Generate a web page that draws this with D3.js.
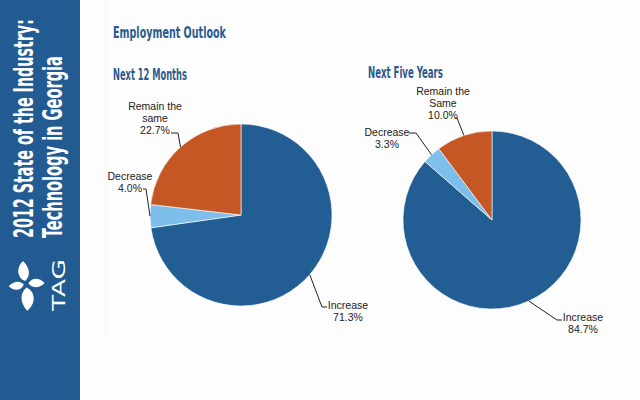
<!DOCTYPE html>
<html>
<head>
<meta charset="utf-8">
<script src="https://cdn.jsdelivr.net/npm/d3@7"></script>
<style>
  body { margin: 0; background: #fdfdfd; }
  svg { display: block; }
</style>
</head>
<body>
<script>
var w = 640,
    h = 400;

// data
var categories = ["Increase", "Decrease", "Remain the same"];
var next12Months = [71.3, 4.0, 22.7];
var nextFiveYears = [84.7, 3.3, 10.0];
var labels12 = [["Increase", "71.3%"], ["Decrease", "4.0%"], ["Remain the", "same", "22.7%"]];
var labels5 = [["Increase", "84.7%"], ["Decrease", "3.3%"], ["Remain the", "Same", "10.0%"]];

var colors = ["#225d93", "#7dbfea", "#c45724"];
var titleBlue = "#2a5a8f";

var svg = d3.select("body").append("svg")
    .attr("width", w)
    .attr("height", h);

svg.append("rect").attr("width", w).attr("height", h).attr("fill", "#fdfdfd");

// squeeze a text horizontally to a given length (stands in for a condensed face)
function squeeze(sel, base, len) {
  var natural = sel.node().getComputedTextLength();
  sel.attr("transform", base + " scale(" + (len / natural) + ",1)");
}

// sidebar
svg.append("rect")
    .attr("width", 80).attr("height", h)
    .attr("fill", "#225b91");

svg.append("line")
    .attr("x1", 106).attr("y1", 0).attr("x2", 106).attr("y2", 333)
    .attr("stroke", "#f4f4f4");

var side = svg.append("g").attr("fill", "#fff")
    .style("font-family", "'Liberation Sans Narrow', 'DejaVu Sans Condensed', sans-serif")
    .style("font-weight", "bold")
    .style("font-size", "26px");

squeeze(side.append("text").text("2012 State of the Industry:"),
    "translate(33,238) rotate(-90)", 219);
squeeze(side.append("text").text("Technology in Georgia"),
    "translate(62,238) rotate(-90)", 182);

// logo (pinwheel)
var logo = svg.append("g").attr("transform", "translate(26,284)").attr("fill", "#fff");
[[-15, 1], [80, 0.8], [170, 1.15], [255, 0.75]].forEach(function(p) {
  logo.append("path")
      .attr("d", "M0,-3 C-7,-8 -6,-18 3,-23 C8,-15 7,-7 0,-3 Z")
      .attr("transform", "rotate(" + p[0] + ") scale(" + p[1] + ")");
});

var tag = svg.append("text")
    .attr("fill", "#fff")
    .style("font-family", "'DejaVu Sans', sans-serif")
    .style("font-size", "17px")
    .text("TAG");
squeeze(tag, "translate(65,311) rotate(-90)", 52);

// titles
var titleFont = "'Liberation Sans Narrow', 'DejaVu Sans Condensed', sans-serif";
function title(x, y, t, len) {
  var s = svg.append("text")
      .attr("fill", titleBlue)
      .style("font-family", titleFont)
      .style("font-weight", "bold")
      .style("font-size", "16px")
      .text(t);
  squeeze(s, "translate(" + x + "," + y + ")", len);
}
title(113, 38, "Employment Outlook", 113);
title(113, 80, "Next 12 Months", 74);
title(368, 78, "Next Five Years", 75);

// pies
var pie = d3.pie().sort(null).value(function(d) { return d; });

function drawPie(values, texts, cx, cy, r, layout) {
  var g = svg.append("g").attr("transform", "translate(" + cx + "," + cy + ")");
  var arc = d3.arc().innerRadius(0).outerRadius(r);
  var arcs = pie(values);

  g.selectAll("path.slice")
      .data(arcs)
      .enter().append("path")
      .attr("class", "slice")
      .attr("d", arc)
      .attr("fill", function(d, i) { return colors[i]; })
      .attr("stroke", "#fff")
      .attr("stroke-width", 0.6);

  arcs.forEach(function(d, i) {
    var L = layout[i];
    var a = (d.startAngle + d.endAngle) / 2;
    var px = Math.sin(a) * r, py = -Math.cos(a) * r;
    g.append("polyline")
        .attr("points", [[px, py], [L.ex - cx, L.ey - cy], [L.hx - cx, L.ey - cy]].join(" "))
        .attr("fill", "none")
        .attr("stroke", "#222")
        .attr("stroke-width", 1);
    var t = svg.append("text")
        .attr("text-anchor", "middle")
        .attr("fill", "#222")
        .style("font-family", "'Liberation Sans', Arial, sans-serif")
        .style("font-size", "10.5px");
    texts[i].forEach(function(s, j) {
      t.append("tspan").attr("x", L.tx).attr("y", L.ty + j * 12).text(s);
    });
  });
}

// label layout: text centre/baseline, elbow point, end of horizontal tick
drawPie(next12Months, labels12, 241, 215, 91, [
  {tx: 348, ty: 309, ex: 322, ey: 307, hx: 327},
  {tx: 130, ty: 180, ex: 146, ey: 189, hx: 143},
  {tx: 155, ty: 110, ex: 178, ey: 133, hx: 171}
]);
drawPie(nextFiveYears, labels5, 492, 220, 89, [
  {tx: 583, ty: 321, ex: 557, ey: 320, hx: 562},
  {tx: 387, ty: 136, ex: 416, ey: 133, hx: 409},
  {tx: 443, ty: 95, ex: 457, ey: 118, hx: 455}
]);
</script>
</body>
</html>
